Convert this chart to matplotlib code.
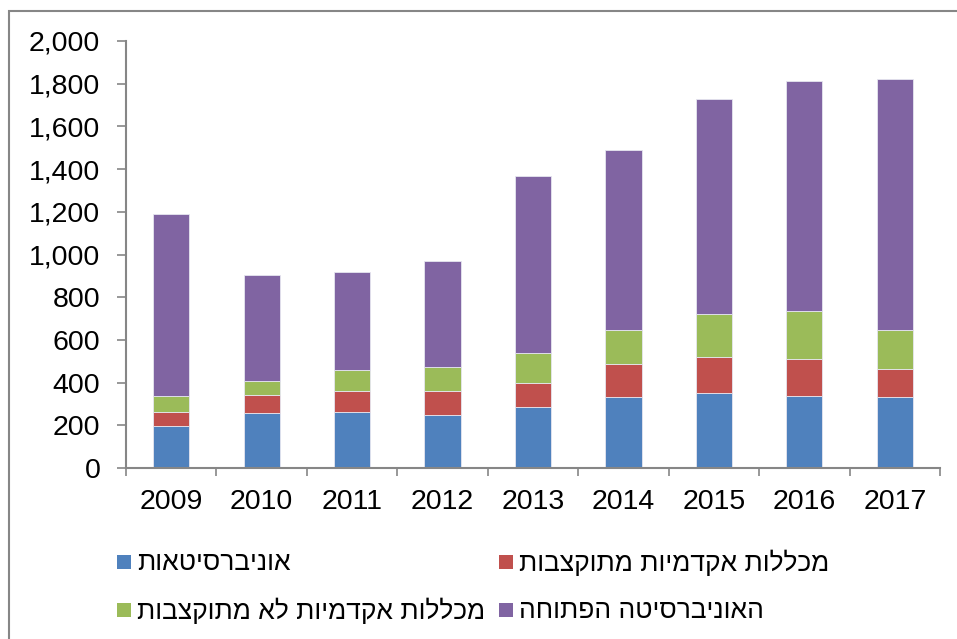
import matplotlib
matplotlib.use("Agg")
import matplotlib.pyplot as plt
from matplotlib.patches import Rectangle
from matplotlib.ticker import FuncFormatter, FixedLocator
import numpy as np

plt.rcParams['font.family'] = ['Liberation Sans', 'DejaVu Sans']

years = ["2009", "2010", "2011", "2012", "2013", "2014", "2015", "2016", "2017"]
universities = [198, 259, 264, 247, 286, 331, 350, 336, 331]
funded_colleges = [64, 83, 97, 115, 114, 158, 170, 176, 134]
unfunded_colleges = [75, 65, 98, 113, 140, 156, 201, 223, 181]
open_university = [853, 498, 459, 493, 826, 845, 1009, 1076, 1178]

series_names = ["אוניברסיטאות", "מכללות אקדמיות מתוקצבות",
                "מכללות אקדמיות לא מתוקצבות", "האוניברסיטה הפתוחה"]
series_values = [universities, funded_colleges, unfunded_colleges, open_university]
colors = ["#4F81BD", "#C0504D", "#9BBB59", "#8064A2"]

W, H = 957, 639
fig = plt.figure(figsize=(W / 100, H / 100), dpi=100)
ax = fig.add_axes([126 / W, 1 - 468 / H, (940 - 126) / W, (468 - 41) / H])

x = np.arange(len(years))
bottom = np.zeros(len(years))
for vals, c in zip(series_values, colors):
    ax.bar(x, vals, width=0.4, bottom=bottom, color=c, edgecolor="#E6E6F0", linewidth=0.6)
    bottom += np.array(vals)

ax.set_xlim(-0.5, len(years) - 0.5)
ax.set_ylim(0, 2000)
ax.set_yticks(np.arange(0, 2001, 200))
ax.yaxis.set_major_formatter(FuncFormatter(lambda v, p: f"{v:,.0f}"))
ax.set_xticks(x)
ax.set_xticklabels(years)
ax.xaxis.set_major_locator(FixedLocator(x))
ax.set_xticks(np.arange(-0.5, len(years), 1.0), minor=True)
ax.tick_params(axis='x', which='major', length=0, pad=15, labelsize=20.5)
ax.tick_params(axis='x', which='minor', length=5.5, width=1.2, color="#868686")
ax.tick_params(axis='y', length=6.5, width=1.2, color="#868686", pad=12, labelsize=20.5)

for s in ["top", "right"]:
    ax.spines[s].set_visible(False)
for s in ["left", "bottom"]:
    ax.spines[s].set_color("#868686")
    ax.spines[s].set_linewidth(1.5)

# legend (manual, right-to-left text reversed for display)
legend_pos = [(117, 562), (499, 562), (117, 610), (499, 610)]
for (px, py), name, c in zip(legend_pos, series_names, colors):
    fig.patches.append(Rectangle((px / W, 1 - (py + 7) / H), 14 / W, 14 / H,
                                 transform=fig.transFigure, facecolor=c, edgecolor="none"))
    fig.text((px + 20) / W, 1 - (py + 1) / H, name[::-1], fontsize=19, va="center", ha="left")

# chart border
fig.patches.append(Rectangle((9 / W, -0.05), 1.05, (1 - 11 / H) + 0.05,
                             transform=fig.transFigure, facecolor="none",
                             edgecolor="#868686", linewidth=1.5))

fig.savefig("out.png", dpi=100)
